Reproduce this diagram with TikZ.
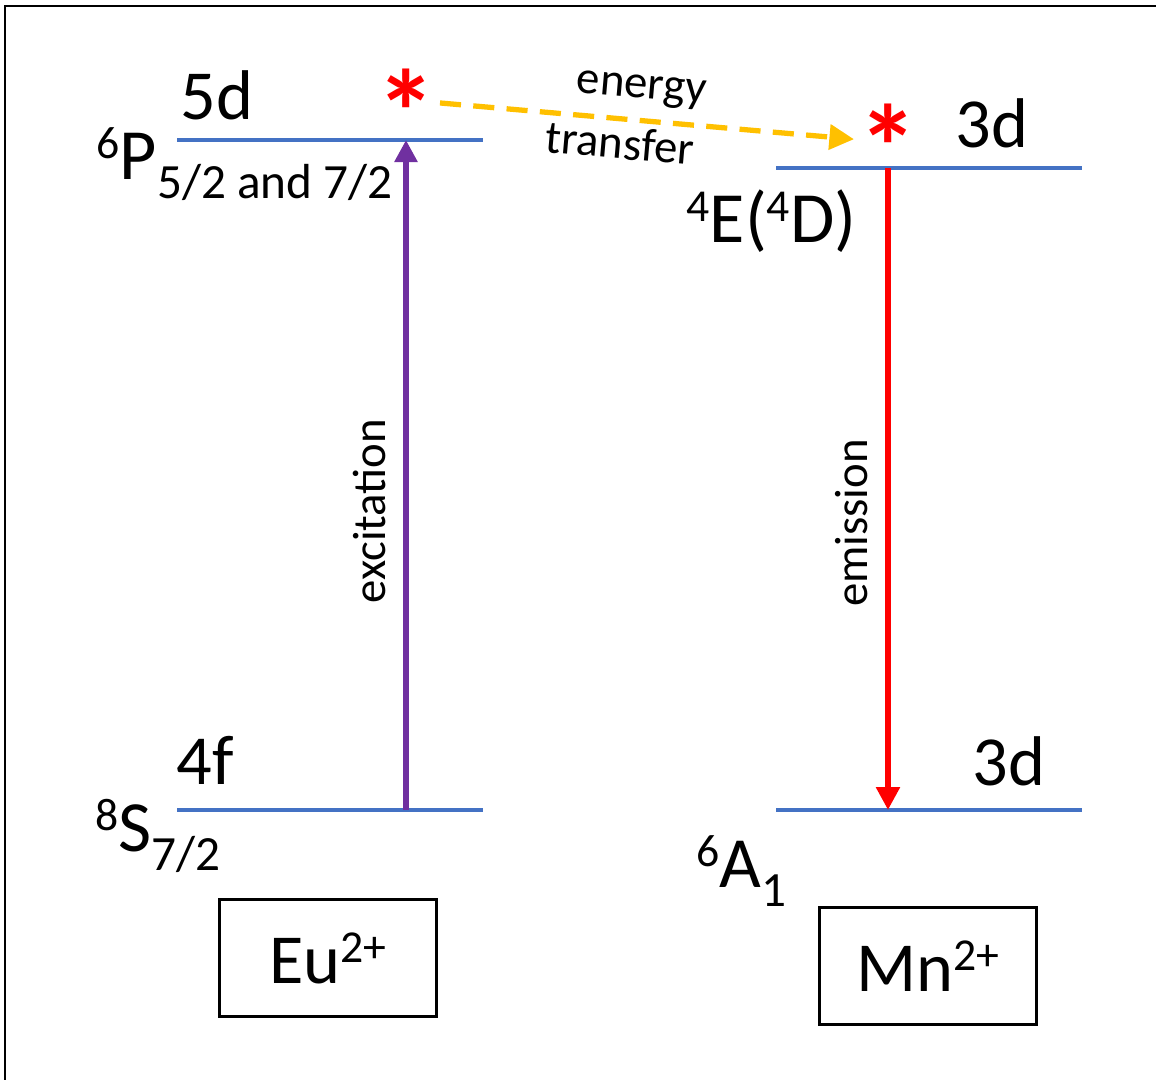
\documentclass[tikz,border=0pt]{standalone}
\usepackage{fontspec}
\setmainfont{Carlito}
\usetikzlibrary{arrows.meta,positioning}
\definecolor{levelblue}{HTML}{4472C4}
\definecolor{excpurple}{HTML}{7030A0}
\definecolor{transorange}{HTML}{FFC000}
\newcommand{\up}[1]{\raisebox{0.3em}{\fontsize{13}{13}\selectfont #1}}
\newcommand{\dn}[1]{\raisebox{-0.26em}{\fontsize{14}{14}\selectfont #1}}

\begin{document}
\begin{tikzpicture}[
  x=0.01cm, y=-0.01cm,
  level/.style={fill=levelblue, minimum width=3.06cm, minimum height=1.2pt, inner sep=0pt},
  orbital/.style={font=\fontsize{20}{24}\selectfont, inner sep=0pt, anchor=base west},
  term/.style={font=\fontsize{20.5}{24}\selectfont, inner sep=0pt, anchor=base west},
  ion/.style={draw, line width=0.9pt, minimum width=2.17cm, minimum height=1.17cm,
    font=\fontsize{20}{24}\selectfont},
  excited/.style={text=red, font=\fontsize{34}{34}\selectfont\bfseries,
    inner xsep=1pt, inner ysep=0pt, text height=31pt, text depth=-18.4pt},
  excite/.style={-{Triangle[length=6.3pt,width=6.3pt]}, excpurple, line width=1.6pt},
  emit/.style={-{Triangle[length=6.5pt,width=6.5pt]}, red, line width=1.6pt},
  transfer/.style={-{Triangle[length=7pt,width=7pt]}, transorange, line width=1.5pt,
    dash pattern=on 6pt off 3.5pt},
  tag/.style={font=\fontsize{13.3}{16}\selectfont, text=black, inner sep=0pt}
]
  \useasboundingbox (0,0) rectangle (1156,1080);
  % frame
  \draw[line width=0.7pt] (5,1090) -- (5,6) -- (1166,6);
  % levels
  \node[level] (eu5d) at (330,140) {};
  \node[level] (eu4f) at (330,810) {};
  \node[level] (mn3dhi) at (929,168) {};
  \node[level] (mn3dlo) at (929,810) {};
  % excited states
  \node[excited] (eustar) at (406,100) {*};
  \node[excited] (mnstar) at (888,135) {*};
  % orbitals
  \node[orbital] (lab5d) at (180,120) {5d};
  \node[orbital] (lab4f) at (176,785) {4f};
  \node[orbital] (lab3dhi) at (955,148) {3d};
  \node[orbital] (lab3dlo) at (972,786) {3d};
  % terms
  \node[term] (p6) at (96,180) {\up{6}P\dn{5/2 and 7/2}};
  \node[term] (s8) at (95,852) {\up{8}S\dn{7/2}};
  \node[term] (e4) at (686,243) {\up{4}E(\up{4}D)};
  \node[term] (a6) at (696,888) {\up{6}A\dn{1}};
  % ions
  \node[ion] (eu) at (328,958) {Eu\up{2+}};
  \node[ion] (mn) at (928,966) {Mn\up{2+}};
  % transitions
  \draw[excite] (eu4f.center -| eustar) -- (eu5d.center -| eustar)
    node[tag, pos=0.446, rotate=90, anchor=south, inner ysep=5pt] {excitation};
  \draw[emit] (mn3dhi.center -| mnstar) -- (mn3dlo.center -| mnstar)
    node[tag, pos=0.553, rotate=90, anchor=south, inner ysep=5pt] {emission};
  \draw[transfer] (eustar) -- ([yshift=-1.2pt]mnstar.west)
    node[tag, sloped, pos=0.48, above=3.4pt] {energy}
    node[tag, sloped, pos=0.44, below=1.5pt] {transfer};
\end{tikzpicture}
\end{document}
